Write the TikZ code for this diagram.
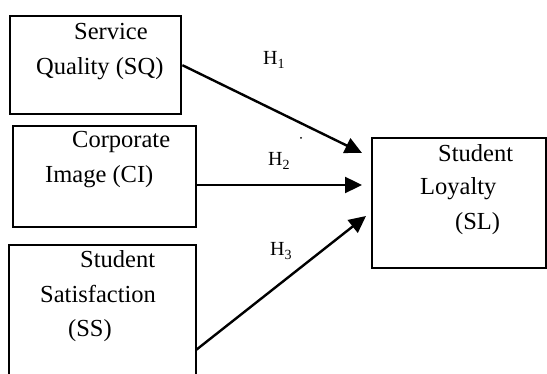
\documentclass[tikz,border=0pt]{standalone}
\usepackage{fontspec}
\setmainfont{Liberation Serif}
\usetikzlibrary{arrows.meta}
\tikzset{
  boxstyle/.style={draw, line width=2.4pt, rectangle, inner sep=0pt, anchor=north west},
  txt/.style={anchor=base west, inner sep=0pt, font=\fontsize{24.5}{28}\selectfont},
  hyp/.style={anchor=base west, inner sep=0pt, font=\fontsize{20}{22}\selectfont},
  arr/.style={line width=2.4pt, -{Triangle[length=17pt,width=16pt]}}
}
\begin{document}
\begin{tikzpicture}[x=1pt,y=-1pt]
\useasboundingbox (0,0) rectangle (547,374);
\clip (0,0) rectangle (547,374);
% boxes
\node[boxstyle, minimum width=171pt, minimum height=98pt] (sq) at (9,15) {};
\node[boxstyle, minimum width=183pt, minimum height=101pt] (ci) at (12,125) {};
\node[boxstyle, minimum width=187pt, minimum height=150pt] (ss) at (8,244) {};
\node[boxstyle, minimum width=174pt, minimum height=130pt] (sl) at (371,137) {};
% texts
\node[txt] (sq1) at (74,40) {Service};
\node[txt] (sq2) at (36,75) {Quality (SQ)};
\node[txt] (ci1) at (72,148) {Corporate};
\node[txt] (ci2) at (45,183) {Image (CI)};
\node[txt] (ss1) at (80,268) {Student};
\node[txt] (ss2) at (40,303) {Satisfaction};
\node[txt] (ss3) at (68,337) {(SS)};
\node[txt] (sl1) at (438,162) {Student};
\node[txt] (sl2) at (420,195) {Loyalty};
\node[txt] (sl3) at (455,230) {(SL)};
% arrow end points
\coordinate (t1) at (362,153);
\coordinate (s2) at (195,185);
\coordinate (t2) at (362,185);
\coordinate (s3) at (196,350);
\coordinate (t3) at (366,216);
\draw[arr] (sq.east) -- (t1);
\draw[arr] (s2) -- (t2);
\draw[arr] (s3) -- (t3);
% labels
\node[hyp] (h1) at (263,65) {H\textsubscript{1}};
\node[hyp] (h2) at (268,166) {H\textsubscript{2}};
\node[hyp] (h3) at (270,256) {H\textsubscript{3}};
\fill (301,138) circle (1pt);
\end{tikzpicture}
\end{document}
